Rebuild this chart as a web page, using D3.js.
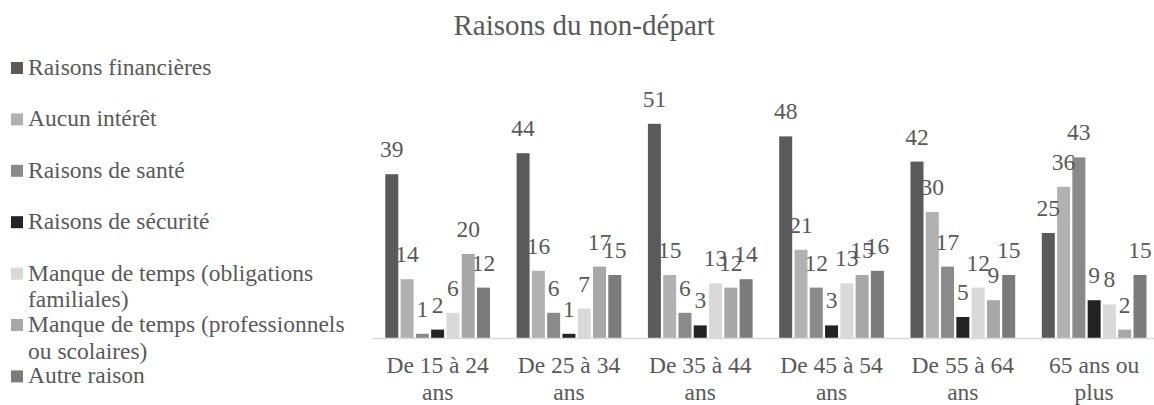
<!DOCTYPE html>
<html>
<head>
<meta charset="utf-8">
<script src="https://cdn.jsdelivr.net/npm/d3@7"></script>
</head>
<body style="margin:0">
<script>
const groups = ["De 15 à 24 ans", "De 25 à 34 ans", "De 35 à 44 ans", "De 45 à 54 ans", "De 55 à 64 ans", "65 ans ou plus"];
const groupLines = [["De 15 à 24", "ans"], ["De 25 à 34", "ans"], ["De 35 à 44", "ans"], ["De 45 à 54", "ans"], ["De 55 à 64", "ans"], ["65 ans ou", "plus"]];

const series = [
  "Raisons financières",
  "Aucun intérêt",
  "Raisons de santé",
  "Raisons de sécurité",
  "Manque de temps (obligations familiales)",
  "Manque de temps (professionnels ou scolaires)",
  "Autre raison"
];
const seriesLines = [
  ["Raisons financières"],
  ["Aucun intérêt"],
  ["Raisons de santé"],
  ["Raisons de sécurité"],
  ["Manque de temps (obligations", "familiales)"],
  ["Manque de temps (professionnels", "ou scolaires)"],
  ["Autre raison"]
];

// values[series][group]
const financieres = [39, 44, 51, 48, 42, 25];
const interet     = [14, 16, 15, 21, 30, 36];
const sante       = [1, 6, 6, 12, 17, 43];
const securite    = [2, 1, 3, 3, 5, 9];
const familiales  = [6, 7, 13, 13, 12, 8];
const pros        = [20, 17, 12, 15, 9, 2];
const autre       = [12, 15, 14, 16, 15, 15];
const values = [financieres, interet, sante, securite, familiales, pros, autre];

const colors = ["#5b5b5b", "#b1b1b1", "#8a8a8a", "#232323", "#d9d9d9", "#a7a7a7", "#7b7b7b"];

const width = 1154, height = 405;
const baseY = 338;
const font = "serif";
const textColor = "#595959";

const svg = d3.select("body").append("svg")
  .attr("width", width)
  .attr("height", height);

function addText(x, yy, str, size, anchor) {
  return svg.append("text")
    .attr("x", x)
    .attr("y", yy)
    .attr("text-anchor", anchor)
    .style("font-family", font)
    .style("font-size", size + "px")
    .style("fill", textColor)
    .text(str);
}

addText(584, 35, "Raisons du non-départ", 29, "middle");

const x0 = d3.scaleBand()
  .domain(groups)
  .range([372, 372 + 6 * 131.3]);

const x1 = d3.scaleBand()
  .domain(series)
  .range([0, x0.bandwidth()])
  .paddingInner(0.15)
  .paddingOuter(0.87);

const y = d3.scaleLinear()
  .domain([0, 60])
  .range([baseY, 86]);

const data = [];
values.forEach((vals, si) => {
  vals.forEach((v, gi) => data.push({ s: series[si], si: si, g: groups[gi], v: v }));
});

// bars
svg.selectAll(".bar")
  .data(data)
  .enter()
  .append("rect")
  .attr("class", "bar")
  .attr("x", d => x0(d.g) + x1(d.s))
  .attr("y", d => y(d.v))
  .attr("width", x1.bandwidth())
  .attr("height", d => baseY - y(d.v))
  .attr("fill", d => colors[d.si]);

// axis line
svg.append("line")
  .attr("x1", x0.range()[0])
  .attr("x2", x0.range()[1])
  .attr("y1", baseY + 0.5)
  .attr("y2", baseY + 0.5)
  .attr("stroke", "#d9d9d9")
  .attr("stroke-width", 1.5);

// data labels
data.forEach(d => {
  addText(x0(d.g) + x1(d.s) + x1.bandwidth() / 2, y(d.v) - 17, String(d.v), 23.5, "middle");
});

// category labels (two lines each)
groups.forEach((g, i) => {
  groupLines[i].forEach((line, li) => {
    addText(x0(g) + x0.bandwidth() / 2, 373 + li * 26.7, line, 23.5, "middle");
  });
});

// legend
series.forEach((s, i) => {
  const by = 75 + i * 51.4;
  svg.append("rect")
    .attr("x", 11)
    .attr("y", by - 13)
    .attr("width", 12)
    .attr("height", 12)
    .attr("fill", colors[i]);
  seriesLines[i].forEach((line, li) => {
    addText(28, by + li * 26.7, line, 23.5, "start");
  });
});
</script>
</body>
</html>
